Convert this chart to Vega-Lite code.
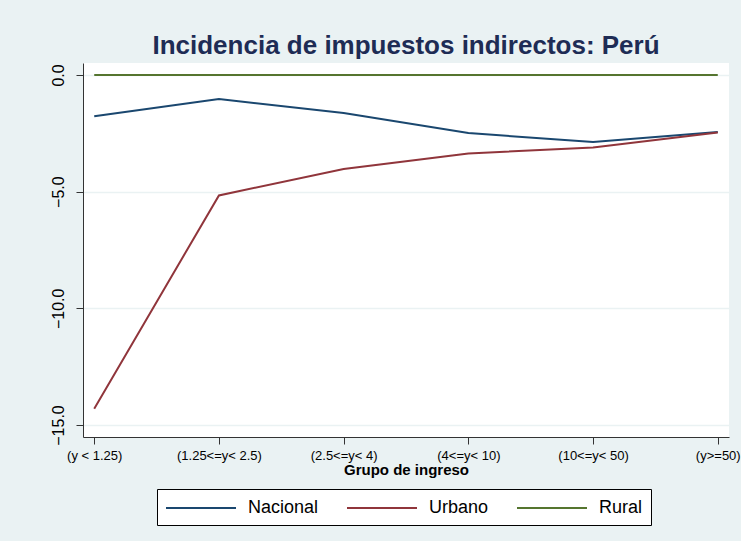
{
  "$schema": "https://vega.github.io/schema/vega-lite/v6.json",
  "autosize": "none",
  "width": 646,
  "height": 374,
  "padding": {"left": 83, "top": 63, "right": 12, "bottom": 104},
  "background": "#EAF2F3",
  "config": {
    "font": "Liberation Sans",
    "view": {"fill": "white", "stroke": null}
  },
  "title": {
    "text": "Incidencia de impuestos indirectos: Perú",
    "anchor": "middle",
    "frame": "group",
    "fontSize": 26,
    "fontWeight": "bold",
    "color": "#1E2C55",
    "font": "Liberation Sans",
    "offset": 4
  },
  "data": {
    "values": [
      {"grupo": "(y < 1.25)", "serie": "Nacional", "valor": -1.77},
      {"grupo": "(1.25<=y< 2.5)", "serie": "Nacional", "valor": -1.03},
      {"grupo": "(2.5<=y< 4)", "serie": "Nacional", "valor": -1.63},
      {"grupo": "(4<=y< 10)", "serie": "Nacional", "valor": -2.49},
      {"grupo": "(10<=y< 50)", "serie": "Nacional", "valor": -2.87},
      {"grupo": "(y>=50)", "serie": "Nacional", "valor": -2.44},
      {"grupo": "(y < 1.25)", "serie": "Urbano", "valor": -14.3},
      {"grupo": "(1.25<=y< 2.5)", "serie": "Urbano", "valor": -5.16},
      {"grupo": "(2.5<=y< 4)", "serie": "Urbano", "valor": -4.03},
      {"grupo": "(4<=y< 10)", "serie": "Urbano", "valor": -3.36},
      {"grupo": "(10<=y< 50)", "serie": "Urbano", "valor": -3.11},
      {"grupo": "(y>=50)", "serie": "Urbano", "valor": -2.46},
      {"grupo": "(y < 1.25)", "serie": "Rural", "valor": 0},
      {"grupo": "(1.25<=y< 2.5)", "serie": "Rural", "valor": 0},
      {"grupo": "(2.5<=y< 4)", "serie": "Rural", "valor": 0},
      {"grupo": "(4<=y< 10)", "serie": "Rural", "valor": 0},
      {"grupo": "(10<=y< 50)", "serie": "Rural", "valor": 0},
      {"grupo": "(y>=50)", "serie": "Rural", "valor": 0}
    ]
  },
  "mark": {"type": "line", "strokeWidth": 2},
  "encoding": {
    "x": {
      "field": "grupo",
      "type": "ordinal",
      "sort": ["(y < 1.25)", "(1.25<=y< 2.5)", "(2.5<=y< 4)", "(4<=y< 10)", "(10<=y< 50)", "(y>=50)"],
      "scale": {"type": "point", "padding": 0.09},
      "axis": {
        "title": "Grupo de ingreso",
        "titleFontSize": 15,
        "titleFontWeight": "bold",
        "titleColor": "#000000",
        "titlePadding": 0,
        "labelAngle": 0,
        "labelFontSize": 13,
        "labelColor": "#000000",
        "labelPadding": 5,
        "labelOverlap": false,
        "tickSize": 7,
        "tickColor": "#333333",
        "domainColor": "#333333",
        "grid": false
      }
    },
    "y": {
      "field": "valor",
      "type": "quantitative",
      "scale": {"domain": [-15.514, 0.514], "nice": false, "zero": false},
      "axis": {
        "title": null,
        "values": [-15, -10, -5, 0],
        "format": ".1f",
        "labelAngle": 270,
        "labelAlign": "center",
        "labelBaseline": "bottom",
        "labelFontSize": 16,
        "labelColor": "#000000",
        "labelPadding": 10,
        "tickSize": 7,
        "tickColor": "#333333",
        "domainColor": "#333333",
        "grid": true,
        "gridColor": "#EAF2F3",
        "gridWidth": 1.5
      }
    },
    "color": {
      "field": "serie",
      "type": "nominal",
      "scale": {"domain": ["Nacional", "Urbano", "Rural"], "range": ["#1A476F", "#90353B", "#55752F"]},
      "legend": {
        "title": null,
        "orient": "none",
        "legendX": 74,
        "legendY": 426,
        "direction": "horizontal",
        "symbolType": "M-1,0H6",
        "symbolSize": 400,
        "symbolStrokeWidth": 2,
        "labelFontSize": 18,
        "labelColor": "#000000",
        "labelOffset": 61,
        "columnPadding": 24,
        "padding": 8,
        "strokeColor": "#000000",
        "fillColor": "#FFFFFF",
        "cornerRadius": 0
      }
    }
  }
}
